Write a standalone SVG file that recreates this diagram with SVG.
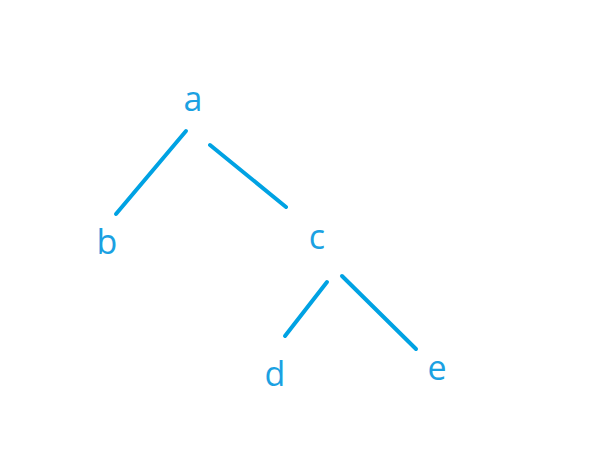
<svg xmlns="http://www.w3.org/2000/svg" width="615" height="463" viewBox="0 0 615 463">
<style>
.lbl{font-family:"Open Sans","Noto Sans",sans-serif;font-size:34px;fill:#1BA1E2;text-anchor:middle}
.edge{stroke:#00A2E3;stroke-width:4;stroke-linecap:round;fill:none}
</style>
<rect width="615" height="463" fill="#fff"/>
<g id="connectors">
<line class="edge" x1="186" y1="131" x2="116" y2="214"/>
<line class="edge" x1="210" y1="145" x2="286" y2="207"/>
<line class="edge" x1="327" y1="282" x2="285" y2="336"/>
<line class="edge" x1="342" y1="276" x2="416" y2="349"/>
</g>
<g id="node-a"><text class="lbl" x="193" y="111">a</text></g>
<g id="node-b"><text class="lbl" x="107" y="254">b</text></g>
<g id="node-c"><text class="lbl" x="317" y="249">c</text></g>
<g id="node-d"><text class="lbl" x="275" y="386">d</text></g>
<g id="node-e"><text class="lbl" x="437" y="380">e</text></g>
</svg>
